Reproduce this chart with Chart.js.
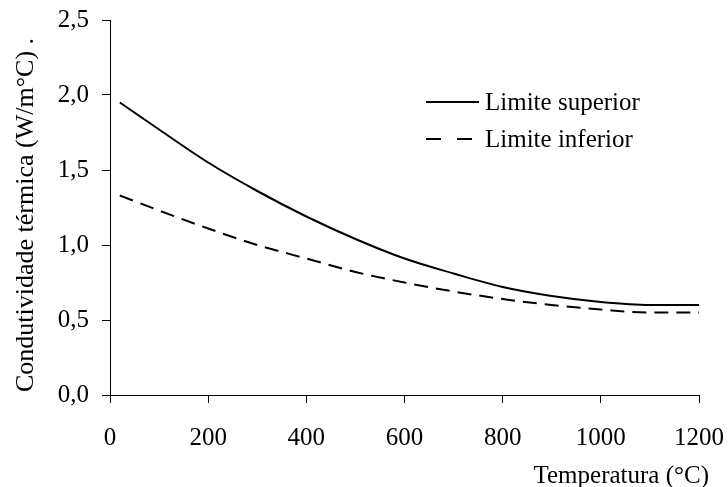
<!DOCTYPE html>
<html>
<head>
<meta charset="utf-8">
<script src="https://cdn.jsdelivr.net/npm/chart.js@4/dist/chart.umd.min.js"></script>
<style>
  body { margin: 0; background: #fff; }
  canvas { display: block; }
</style>
</head>
<body>
<canvas id="chart" width="728" height="487"></canvas>
<script>
// ===== Dados =====
const temperaturas = [20, 100, 200, 300, 400, 500, 600, 700, 800, 900, 1000, 1100, 1200];
const limiteSuperior = [1.95, 1.77, 1.55, 1.36, 1.19, 1.04, 0.91, 0.81, 0.72, 0.66, 0.62, 0.60, 0.60];
const limiteInferior = [1.33, 1.23, 1.11, 1.00, 0.91, 0.82, 0.75, 0.69, 0.64, 0.60, 0.57, 0.55, 0.55];
const nomesSeries = ['Limite superior', 'Limite inferior'];
const tituloX = 'Temperatura (°C)';
const tituloY = 'Condutividade térmica (W/m°C) .';

const FONTE = "'Liberation Serif', 'Times New Roman', serif";

function pontos(valores) {
    return temperaturas.map((t, i) => ({ x: t, y: valores[i] }));
}

// legenda e títulos dos eixos desenhados à mão
const extras = {
    id: 'extras',
    afterDraw(chart) {
        const ctx = chart.ctx;
        ctx.save();
        ctx.fillStyle = '#000';
        ctx.strokeStyle = '#000';
        ctx.font = '25px ' + FONTE;

        // legenda
        const linhas = [102, 139];
        chart.data.datasets.forEach((ds, i) => {
            const y = linhas[i];
            ctx.lineWidth = 2;
            ctx.setLineDash(i === 0 ? [] : [15, 16]);
            ctx.beginPath();
            ctx.moveTo(426, y);
            ctx.lineTo(479, y);
            ctx.stroke();
            ctx.setLineDash([]);
            ctx.textAlign = 'left';
            ctx.textBaseline = 'middle';
            ctx.fillText(ds.label, 485, y + 1);
        });

        // título do eixo x
        ctx.textAlign = 'right';
        ctx.textBaseline = 'alphabetic';
        ctx.fillText(tituloX, 709, 483);

        // título do eixo y
        ctx.font = '26px ' + FONTE;
        ctx.translate(33, 215);
        ctx.rotate(-Math.PI / 2);
        ctx.textAlign = 'center';
        ctx.fillText(tituloY, 0, 0);
        ctx.restore();
    }
};

new Chart(document.getElementById('chart'), {
    type: 'line',
    data: {
        datasets: [
            {
                label: nomesSeries[0],
                data: pontos(limiteSuperior),
                borderColor: '#000',
                borderWidth: 2,
                pointRadius: 0,
                cubicInterpolationMode: 'monotone'
            },
            {
                label: nomesSeries[1],
                data: pontos(limiteInferior),
                borderColor: '#000',
                borderWidth: 2,
                borderDash: [14, 8],
                pointRadius: 0,
                cubicInterpolationMode: 'monotone'
            }
        ]
    },
    options: {
        responsive: false,
        animation: false,
        layout: { padding: { top: 20, right: 29, left: 0, bottom: 0 } },
        plugins: { legend: { display: false }, tooltip: { enabled: false } },
        scales: {
            x: {
                type: 'linear',
                min: 0,
                max: 1200,
                afterFit(s) {
                    s.height = 92;
                    s.paddingLeft = 0;
                    s.paddingRight = 0;
                },
                ticks: {
                    stepSize: 200,
                    color: '#000',
                    font: { family: FONTE, size: 25 },
                    padding: 20,
                    maxRotation: 0,
                    callback: v => String(v)
                },
                grid: { drawOnChartArea: false, tickLength: 8, color: '#000' },
                border: { color: '#000', width: 1 }
            },
            y: {
                min: 0,
                max: 2.5,
                afterFit(s) {
                    s.width = 110;
                    s.paddingTop = 0;
                    s.paddingBottom = 0;
                },
                ticks: {
                    stepSize: 0.5,
                    color: '#000',
                    font: { family: FONTE, size: 25 },
                    padding: 13,
                    callback: v => v.toFixed(1).replace('.', ',')
                },
                grid: { drawOnChartArea: false, tickLength: 8, color: '#000' },
                border: { color: '#000', width: 1 }
            }
        }
    },
    plugins: [extras]
});
</script>
</body>
</html>
